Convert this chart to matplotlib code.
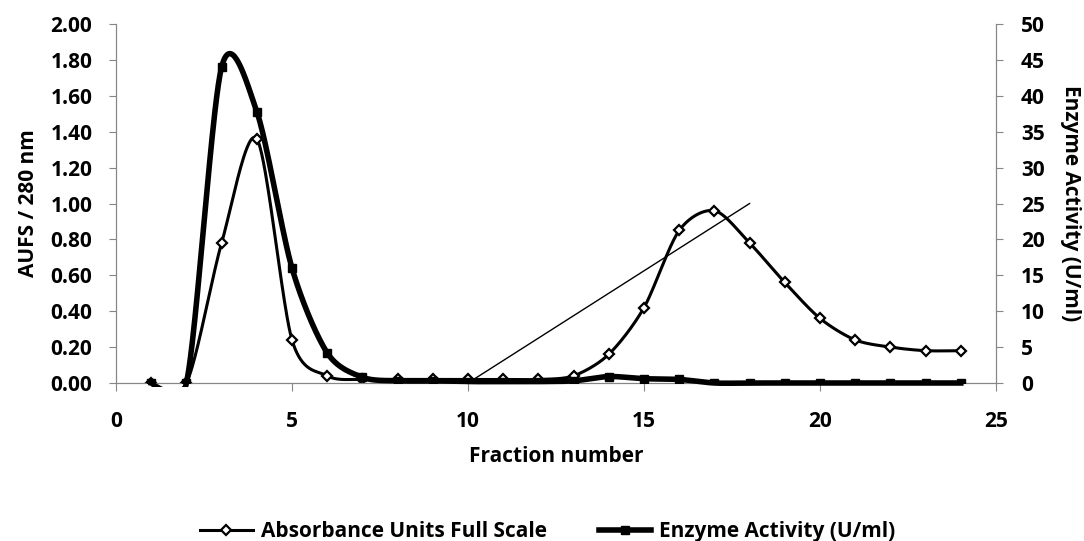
import numpy as np
import matplotlib.pyplot as plt
from matplotlib.lines import Line2D
from matplotlib.patches import Rectangle

plt.rcParams['font.family'] = ['Open Sans', 'DejaVu Sans']
plt.rcParams['font.weight'] = 'bold'

# data
fraction = np.arange(1, 25)
aufs = [0.00, 0.00, 0.78, 1.36, 0.24, 0.04, 0.02, 0.02, 0.02, 0.02, 0.02, 0.02,
        0.04, 0.16, 0.42, 0.85, 0.96, 0.78, 0.56, 0.36, 0.24, 0.20, 0.18, 0.18]
enzyme = [0.0, 0.0, 44.0, 37.8, 16.0, 4.2, 0.8, 0.3, 0.3, 0.2, 0.2, 0.2,
          0.3, 0.9, 0.6, 0.5, 0.0, 0.0, 0.0, 0.0, 0.0, 0.0, 0.0, 0.0]
gradient_x = [10, 18]
gradient_y = [0.0, 1.0]

left_ticks = np.arange(0, 2.01, 0.2)
right_ticks = np.arange(0, 51, 5)
x_ticks = np.arange(0, 26, 5)


def smooth(x, y, n=40, k=7):
    # excel style smoothed line (catmull-rom like bezier)
    x = np.asarray(x, float)
    y = np.asarray(y, float)
    px = np.concatenate([[x[0]], x, [x[-1]]])
    py = np.concatenate([[y[0]], y, [y[-1]]])
    t = np.linspace(0, 1, n)[:, None]
    out = []
    for i in range(len(x) - 1):
        p0 = np.array([px[i], py[i]])
        p1 = np.array([px[i + 1], py[i + 1]])
        p2 = np.array([px[i + 2], py[i + 2]])
        p3 = np.array([px[i + 3], py[i + 3]])
        c1 = p1 + (p2 - p0) / k
        c2 = p2 - (p3 - p1) / k
        seg = ((1 - t) ** 3) * p1 + 3 * ((1 - t) ** 2) * t * c1 + 3 * (1 - t) * t ** 2 * c2 + t ** 3 * p2
        out.append(seg)
    pts = np.vstack(out)
    return pts[:, 0], pts[:, 1]


fig = plt.figure(figsize=(10.84, 5.41), dpi=100)
ax = fig.add_axes([116 / 1084, 1 - 383 / 541, 880 / 1084, 359 / 541])
ax2 = ax.twinx()

gray = '#868686'
fs = 15

sx, sy = smooth(fraction, aufs)
l1, = ax.plot(sx, sy, color='black', lw=2.2, zorder=3)
ax.plot(fraction, aufs, ls='none', marker='D', ms=5, mfc='white', mec='black', mew=1.6, zorder=4)
ax.plot(gradient_x, gradient_y, color='black', lw=1, zorder=3)

ex, ey = smooth(fraction, enzyme)
l2, = ax2.plot(ex, ey, color='black', lw=4, zorder=3)
ax2.plot(fraction, enzyme, ls='none', marker='s', ms=6, color='black', zorder=4)

# let the baseline lines show fully, dips below zero stay hidden
for a, line in [(ax, l1), (ax2, l2)]:
    clip = Rectangle((0, -0.012), 1, 1.03, transform=a.transAxes)
    line.set_clip_path(clip)

ax.set_xlim(0, 25)
ax.set_ylim(0, 2)
ax2.set_ylim(0, 50)
ax.set_xticks(x_ticks)
ax.set_yticks(left_ticks)
ax.set_yticklabels([f'{v:.2f}' for v in left_ticks])
ax2.set_yticks(right_ticks)

for a in (ax, ax2):
    for s in a.spines.values():
        s.set_color(gray)
    a.spines['top'].set_visible(False)
    a.tick_params(colors=gray, labelcolor='black', labelsize=fs, length=5)
ax.tick_params(axis='x', length=6, pad=14)
ax.tick_params(axis='y', pad=12)
ax2.tick_params(axis='y', pad=13)

ax.set_xlabel('Fraction number', fontsize=fs, fontweight='bold', labelpad=10)
ax.set_ylabel('AUFS / 280 nm', fontsize=fs, fontweight='bold', labelpad=8)
ax2.set_ylabel('Enzyme Activity (U/ml)', fontsize=fs, fontweight='bold', rotation=-90, labelpad=26)

handles = [
    Line2D([], [], color='black', lw=2.2, marker='D', ms=5, mfc='white', mec='black', mew=1.6),
    Line2D([], [], color='black', lw=4, marker='s', ms=6),
]
fig.legend(handles, ['Absorbance Units Full Scale', 'Enzyme Activity (U/ml)'],
           loc='center', bbox_to_anchor=(548 / 1084, 0.017), ncol=2, frameon=False,
           fontsize=fs, handlelength=2.5, handletextpad=0.4, columnspacing=2.5)

fig.savefig('out.png', dpi=100)
